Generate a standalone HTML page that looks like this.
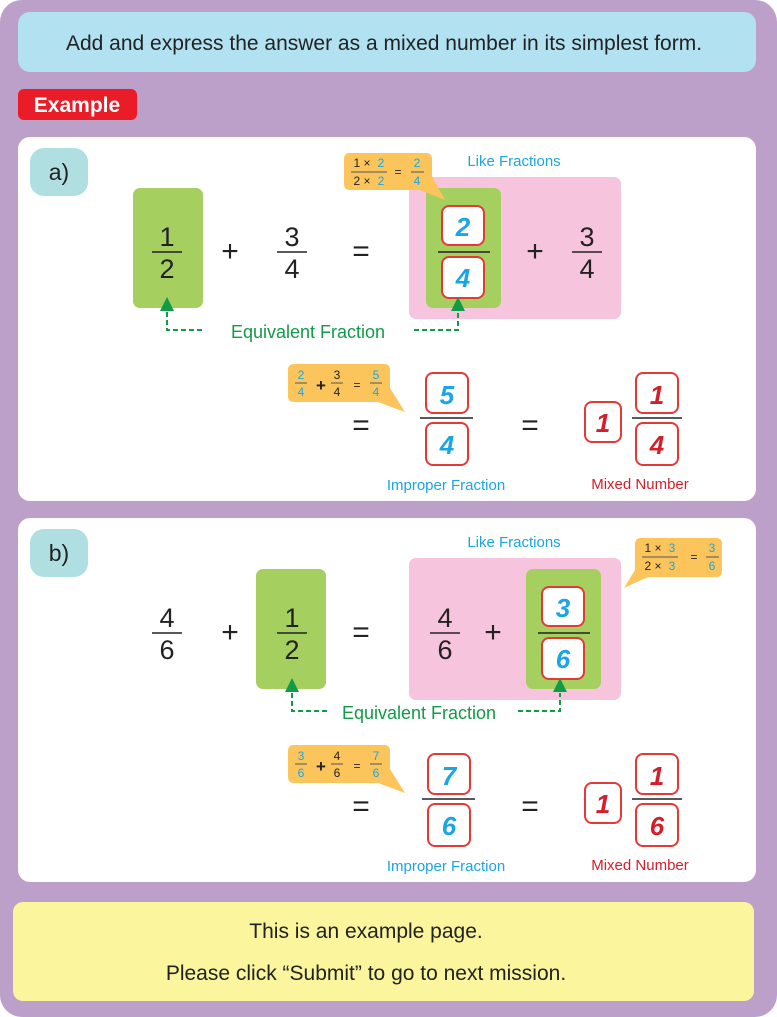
<!DOCTYPE html>
<html><head><meta charset="utf-8"><style>
html,body{margin:0;padding:0;background:#fff;}
svg{display:block;font-family:"Liberation Sans",sans-serif;}
.n{font-size:27px;fill:#222;text-anchor:middle;}
.r{font-size:26px;font-weight:bold;font-style:italic;text-anchor:middle;}
.s{font-size:12px;text-anchor:middle;}
.op{font-size:30px;fill:#222;text-anchor:middle;}
</style></head><body>
<svg width="777" height="1017" viewBox="0 0 777 1017">
<defs>
<marker id="ar" viewBox="0 0 10 10" refX="5" refY="5" markerWidth="1" markerHeight="1"></marker>
</defs>
<rect x="0" y="0" width="777" height="1017" rx="22" fill="#bda0c9"/>
<rect x="18" y="12" width="738" height="60" rx="12" fill="#b2e1f1"/>
<text x="384" y="50" font-size="21" fill="#222" text-anchor="middle">Add and express the answer as a mixed number in its simplest form.</text>
<rect x="18" y="89" width="119" height="31" rx="6" fill="#ea1c27"/>
<text x="77" y="112" font-size="21" font-weight="bold" fill="#fff" text-anchor="middle">Example</text>

<!-- Panel a -->
<rect x="18" y="137" width="738" height="364" rx="12" fill="#fff"/>
<rect x="30" y="148" width="58" height="48" rx="14" fill="#b0dfe2"/>
<text x="59" y="180" font-size="23" fill="#222" text-anchor="middle">a)</text>

<rect x="133" y="188" width="70" height="120" rx="7" fill="#a5cf5e"/>
<text class="n" x="167" y="246">1</text><line x1="152" y1="252" x2="182" y2="252" stroke="#222" stroke-width="1.5"/><text class="n" x="167" y="278">2</text>
<text class="op" x="230" y="261">+</text>
<text class="n" x="292" y="246">3</text><line x1="277" y1="252" x2="307" y2="252" stroke="#222" stroke-width="1.5"/><text class="n" x="292" y="278">4</text>
<text class="op" x="361" y="261">=</text>
<rect x="409" y="177" width="212" height="142" rx="7" fill="#f6c4dc"/>
<rect x="426" y="188" width="75" height="120" rx="7" fill="#a5cf5e"/>
<rect x="442" y="206" width="42" height="39" rx="7" fill="#fff" stroke="#e53935" stroke-width="2"/>
<text class="r" x="463" y="236" fill="#1aa5e4">2</text>
<line x1="438" y1="252" x2="490" y2="252" stroke="#222" stroke-width="1.5"/>
<rect x="442" y="257" width="42" height="41" rx="7" fill="#fff" stroke="#e53935" stroke-width="2"/>
<text class="r" x="463" y="287" fill="#1aa5e4">4</text>
<text class="op" x="535" y="261">+</text>
<text class="n" x="587" y="246">3</text><line x1="572" y1="252" x2="602" y2="252" stroke="#222" stroke-width="1.5"/><text class="n" x="587" y="278">4</text>
<text x="514" y="166" font-size="15" fill="#1aa5e4" text-anchor="middle">Like Fractions</text>
<path d="M350 153 H426 Q432 153 432 159 V176 L445 200 L420 190 H350 Q344 190 344 184 V159 Q344 153 350 153Z" fill="#fcc55c"/>
<text class="s" x="362" y="167" fill="#222">1 ×</text><text class="s" x="381" y="167" fill="#1aa5e4">2</text>
<line x1="351" y1="172" x2="387" y2="172" stroke="#555" stroke-width="1"/>
<text class="s" x="362" y="185" fill="#222">2 ×</text><text class="s" x="381" y="185" fill="#1aa5e4">2</text>
<text class="s" x="398" y="176" fill="#222">=</text>
<text class="s" x="417" y="167" fill="#1aa5e4">2</text><line x1="411" y1="172" x2="424" y2="172" stroke="#555"/><text class="s" x="417" y="185" fill="#1aa5e4">4</text>
<!-- arrows a -->
<g stroke="#119a48" stroke-width="2" fill="none" stroke-dasharray="5,3">
<path d="M167 312 V330 H205"/><path d="M414 330 H458 V312"/>
</g>
<polygon points="167,297 160,311 174,311" fill="#119a48"/>
<polygon points="458,297 451,311 465,311" fill="#119a48"/>
<text x="308" y="338" font-size="18" fill="#119a48" text-anchor="middle">Equivalent Fraction</text>
<!-- row 2 a -->
<path d="M294 364 H384 Q390 364 390 370 V388 L405 412 L378 402 H294 Q288 402 288 396 V370 Q288 364 294 364Z" fill="#fcc55c"/>
<text class="s" x="301" y="379" fill="#1aa5e4">2</text><line x1="295" y1="383" x2="307" y2="383" stroke="#555"/><text class="s" x="301" y="396" fill="#1aa5e4">4</text>
<text x="321" y="391" font-size="17" font-weight="bold" fill="#222" text-anchor="middle">+</text>
<text class="s" x="337" y="379" fill="#222">3</text><line x1="331" y1="383" x2="343" y2="383" stroke="#555"/><text class="s" x="337" y="396" fill="#222">4</text>
<text class="s" x="357" y="389" fill="#222">=</text>
<text class="s" x="376" y="379" fill="#1aa5e4">5</text><line x1="370" y1="383" x2="382" y2="383" stroke="#555"/><text class="s" x="376" y="396" fill="#1aa5e4">4</text>
<text class="op" x="361" y="435">=</text>
<rect x="426" y="373" width="42" height="40" rx="7" fill="#fff" stroke="#e53935" stroke-width="2"/>
<text class="r" x="447" y="404" fill="#1aa5e4">5</text>
<line x1="420" y1="418" x2="473" y2="418" stroke="#222" stroke-width="1.5"/>
<rect x="426" y="423" width="42" height="42" rx="7" fill="#fff" stroke="#e53935" stroke-width="2"/>
<text class="r" x="447" y="454" fill="#1aa5e4">4</text>
<text x="446" y="490" font-size="15" fill="#1aa5e4" text-anchor="middle">Improper Fraction</text>
<text class="op" x="530" y="435">=</text>
<rect x="585" y="402" width="36" height="40" rx="7" fill="#fff" stroke="#e53935" stroke-width="2"/>
<text class="r" x="603" y="432" fill="#d21f2a">1</text>
<rect x="636" y="373" width="42" height="40" rx="7" fill="#fff" stroke="#e53935" stroke-width="2"/>
<text class="r" x="657" y="404" fill="#d21f2a">1</text>
<line x1="632" y1="418" x2="682" y2="418" stroke="#222" stroke-width="1.5"/>
<rect x="636" y="423" width="42" height="42" rx="7" fill="#fff" stroke="#e53935" stroke-width="2"/>
<text class="r" x="657" y="454" fill="#d21f2a">4</text>
<text x="640" y="489" font-size="15" fill="#d21f2a" text-anchor="middle">Mixed Number</text>

<!-- Panel b -->
<rect x="18" y="518" width="738" height="364" rx="12" fill="#fff"/>
<rect x="30" y="529" width="58" height="48" rx="14" fill="#b0dfe2"/>
<text x="59" y="561" font-size="23" fill="#222" text-anchor="middle">b)</text>
<text class="n" x="167" y="627">4</text><line x1="152" y1="633" x2="182" y2="633" stroke="#222" stroke-width="1.5"/><text class="n" x="167" y="659">6</text>
<text class="op" x="230" y="642">+</text>
<rect x="256" y="569" width="70" height="120" rx="7" fill="#a5cf5e"/>
<text class="n" x="292" y="627">1</text><line x1="277" y1="633" x2="307" y2="633" stroke="#222" stroke-width="1.5"/><text class="n" x="292" y="659">2</text>
<text class="op" x="361" y="642">=</text>
<rect x="409" y="558" width="212" height="142" rx="7" fill="#f6c4dc"/>
<text class="n" x="445" y="627">4</text><line x1="430" y1="633" x2="460" y2="633" stroke="#222" stroke-width="1.5"/><text class="n" x="445" y="659">6</text>
<text class="op" x="493" y="642">+</text>
<rect x="526" y="569" width="75" height="120" rx="7" fill="#a5cf5e"/>
<rect x="542" y="587" width="42" height="39" rx="7" fill="#fff" stroke="#e53935" stroke-width="2"/>
<text class="r" x="563" y="617" fill="#1aa5e4">3</text>
<line x1="538" y1="633" x2="590" y2="633" stroke="#222" stroke-width="1.5"/>
<rect x="542" y="638" width="42" height="41" rx="7" fill="#fff" stroke="#e53935" stroke-width="2"/>
<text class="r" x="563" y="668" fill="#1aa5e4">6</text>
<text x="514" y="547" font-size="15" fill="#1aa5e4" text-anchor="middle">Like Fractions</text>
<path d="M641 538 H716 Q722 538 722 544 V571 Q722 577 716 577 H648 L624 588 L635 570 V544 Q635 538 641 538Z" fill="#fcc55c"/>
<text class="s" x="653" y="552" fill="#222">1 ×</text><text class="s" x="672" y="552" fill="#1aa5e4">3</text>
<line x1="642" y1="557" x2="678" y2="557" stroke="#555"/>
<text class="s" x="653" y="570" fill="#222">2 ×</text><text class="s" x="672" y="570" fill="#1aa5e4">3</text>
<text class="s" x="694" y="561" fill="#222">=</text>
<text class="s" x="712" y="552" fill="#1aa5e4">3</text><line x1="706" y1="557" x2="719" y2="557" stroke="#555"/><text class="s" x="712" y="570" fill="#1aa5e4">6</text>
<g stroke="#119a48" stroke-width="2" fill="none" stroke-dasharray="5,3">
<path d="M292 693 V711 H328"/><path d="M518 711 H560 V693"/>
</g>
<polygon points="292,678 285,692 299,692" fill="#119a48"/>
<polygon points="560,678 553,692 567,692" fill="#119a48"/>
<text x="419" y="719" font-size="18" fill="#119a48" text-anchor="middle">Equivalent Fraction</text>
<path d="M294 745 H384 Q390 745 390 751 V769 L405 793 L378 783 H294 Q288 783 288 777 V751 Q288 745 294 745Z" fill="#fcc55c"/>
<text class="s" x="301" y="760" fill="#1aa5e4">3</text><line x1="295" y1="764" x2="307" y2="764" stroke="#555"/><text class="s" x="301" y="777" fill="#1aa5e4">6</text>
<text x="321" y="772" font-size="17" font-weight="bold" fill="#222" text-anchor="middle">+</text>
<text class="s" x="337" y="760" fill="#222">4</text><line x1="331" y1="764" x2="343" y2="764" stroke="#555"/><text class="s" x="337" y="777" fill="#222">6</text>
<text class="s" x="357" y="770" fill="#222">=</text>
<text class="s" x="376" y="760" fill="#1aa5e4">7</text><line x1="370" y1="764" x2="382" y2="764" stroke="#555"/><text class="s" x="376" y="777" fill="#1aa5e4">6</text>
<text class="op" x="361" y="816">=</text>
<rect x="428" y="754" width="42" height="40" rx="7" fill="#fff" stroke="#e53935" stroke-width="2"/>
<text class="r" x="449" y="785" fill="#1aa5e4">7</text>
<line x1="422" y1="799" x2="475" y2="799" stroke="#222" stroke-width="1.5"/>
<rect x="428" y="804" width="42" height="42" rx="7" fill="#fff" stroke="#e53935" stroke-width="2"/>
<text class="r" x="449" y="835" fill="#1aa5e4">6</text>
<text x="446" y="871" font-size="15" fill="#1aa5e4" text-anchor="middle">Improper Fraction</text>
<text class="op" x="530" y="816">=</text>
<rect x="585" y="783" width="36" height="40" rx="7" fill="#fff" stroke="#e53935" stroke-width="2"/>
<text class="r" x="603" y="813" fill="#d21f2a">1</text>
<rect x="636" y="754" width="42" height="40" rx="7" fill="#fff" stroke="#e53935" stroke-width="2"/>
<text class="r" x="657" y="785" fill="#d21f2a">1</text>
<line x1="632" y1="799" x2="682" y2="799" stroke="#222" stroke-width="1.5"/>
<rect x="636" y="804" width="42" height="42" rx="7" fill="#fff" stroke="#e53935" stroke-width="2"/>
<text class="r" x="657" y="835" fill="#d21f2a">6</text>
<text x="640" y="870" font-size="15" fill="#d21f2a" text-anchor="middle">Mixed Number</text>

<!-- bottom -->
<rect x="13" y="902" width="741" height="99" rx="10" fill="#fbf59e"/>
<text x="366" y="938" font-size="21" fill="#222" text-anchor="middle">This is an example page.</text>
<text x="366" y="980" font-size="21" fill="#222" text-anchor="middle">Please click “Submit” to go to next mission.</text>
</svg>
</body></html>
